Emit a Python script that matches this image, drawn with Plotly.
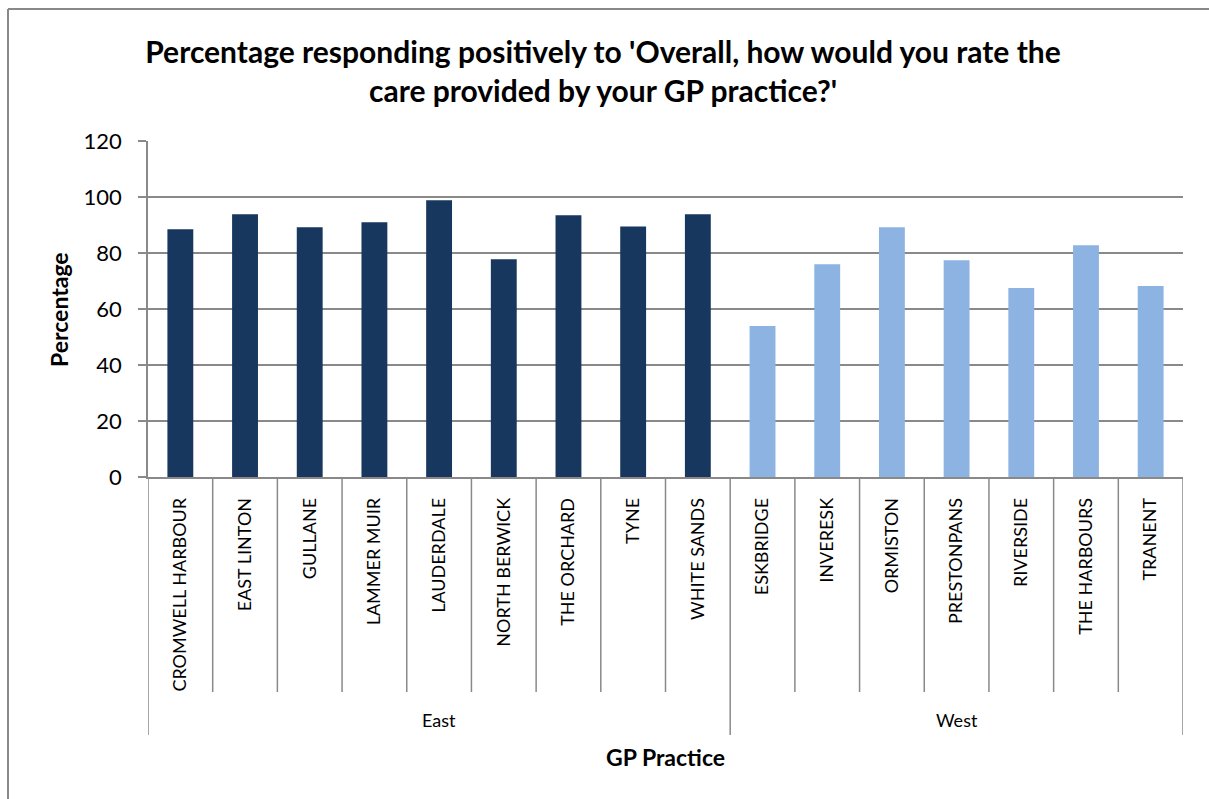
import plotly.graph_objects as go

# ---- data ----
practices = ["CROMWELL HARBOUR", "EAST LINTON", "GULLANE", "LAMMER MUIR", "LAUDERDALE",
             "NORTH BERWICK", "THE ORCHARD", "TYNE", "WHITE SANDS",
             "ESKBRIDGE", "INVERESK", "ORMISTON", "PRESTONPANS", "RIVERSIDE",
             "THE HARBOURS", "TRANENT"]
regions = ["East"] * 9 + ["West"] * 7
percentages = [88.5, 93.8, 89.2, 91.0, 98.8, 77.8, 93.5, 89.5, 93.8,
               53.9, 76.0, 89.2, 77.4, 67.5, 82.8, 68.2]
region_names = ["East", "West"]
region_colors = {"East": "#17375E", "West": "#8DB3E2"}
y_ticks = [0, 20, 40, 60, 80, 100, 120]

W, H = 1209, 799
L, R, T, B = 148, 26, 141, 322
pw, ph = W - L - R, H - T - B

def px_x(p):  # pixel x -> paper
    return (p - L) / pw

def px_y(p):  # pixel y -> paper
    return (H - B - p) / ph

FONT = "Lato"
GRAY = "#898989"

fig = go.Figure()
fig.add_trace(go.Bar(
    x=practices, y=percentages,
    marker=dict(color=[region_colors[r] for r in regions], line=dict(width=0)),
    showlegend=False,
))

shapes = []
n = len(practices)
for i in range(1, n):
    if regions[i] != regions[i - 1]:
        continue
    shapes.append(dict(type="line", xref="x", yref="paper", x0=i - 0.5, x1=i - 0.5,
                       y0=0, y1=px_y(692), line=dict(color=GRAY, width=1.5)))
bounds = [-0.5] + [i - 0.5 for i in range(1, n) if regions[i] != regions[i - 1]] + [n - 0.5]
for b in bounds:
    shapes.append(dict(type="line", xref="x", yref="paper", x0=b, x1=b,
                       y0=0, y1=px_y(735), line=dict(color=GRAY, width=1.5)))
# chart border (top + left visible)
shapes.append(dict(type="line", xref="paper", yref="paper", x0=px_x(8), x1=px_x(1215),
                   y0=px_y(9), y1=px_y(9), line=dict(color=GRAY, width=2)))
shapes.append(dict(type="line", xref="paper", yref="paper", x0=px_x(8), x1=px_x(8),
                   y0=px_y(9), y1=px_y(805), line=dict(color=GRAY, width=2)))

annotations = []
for g in region_names:
    idx = [i for i, r in enumerate(regions) if r == g]
    annotations.append(dict(text=g, xref="x", yref="paper", x=(idx[0] + idx[-1]) / 2,
                            y=px_y(720), showarrow=False, yanchor="middle",
                            font=dict(family=FONT, size=18, color="#000")))
annotations.append(dict(text="<b>GP Practice</b>", xref="paper", yref="paper", x=0.5,
                        y=px_y(757), showarrow=False, yanchor="middle",
                        font=dict(family=FONT, size=23, color="#000")))
annotations.append(dict(text="<b>Percentage</b>", xref="paper", yref="paper", x=px_x(59),
                        y=px_y(310), showarrow=False, textangle=-90, xanchor="center",
                        yanchor="middle",
                        font=dict(family=FONT, size=23, color="#000")))

fig.update_layout(
    width=W, height=H,
    margin=dict(l=L, r=R, t=T, b=B),
    paper_bgcolor="white", plot_bgcolor="white",
    bargap=0.6,
    title=dict(text="<b>Percentage responding positively to 'Overall, how would you rate the<br>care provided by your GP practice?'</b>",
               x=603 / W, xanchor="center", y=1 - 63 / H, yanchor="middle",
               font=dict(family=FONT, size=30, color="#000")),
    shapes=shapes, annotations=annotations,
    font=dict(family=FONT, color="#000"),
)
fig.update_xaxes(type="category", categoryorder="array", categoryarray=practices,
                 showline=True, linecolor=GRAY, linewidth=1.5, ticks="",
                 tickangle=-90, ticklabelstandoff=12,
                 tickfont=dict(family=FONT, size=18, color="#000"), showgrid=False,
                 range=[-0.5, n - 0.5])
fig.update_yaxes(range=[0, 120], tickvals=y_ticks, showgrid=True, gridcolor=GRAY,
                 gridwidth=1.5, showline=True, linecolor=GRAY, linewidth=1.5,
                 ticks="outside", ticklen=8, tickcolor=GRAY, tickwidth=1.5,
                 ticklabelstandoff=12,
                 tickfont=dict(family=FONT, size=22, color="#000"), zeroline=False)

fig.write_html("out.html", config={"displayModeBar": False},
               post_script="document.body.style.margin='0px';")
